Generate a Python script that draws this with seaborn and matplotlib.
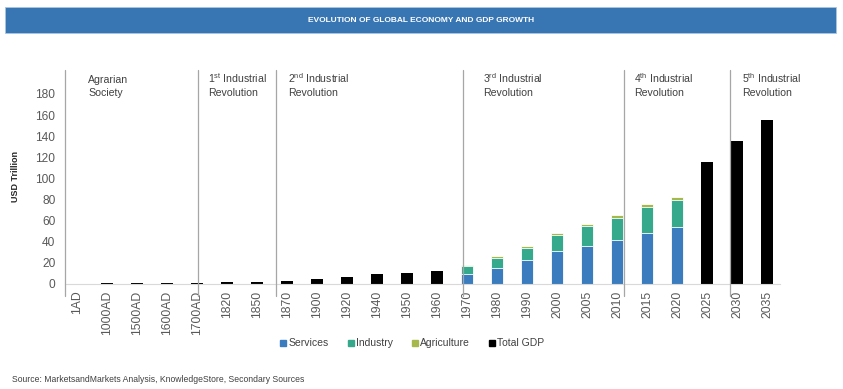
import matplotlib
matplotlib.use("Agg")
import matplotlib.pyplot as plt
import seaborn as sns
import numpy as np
import pandas as pd
from matplotlib.patches import Rectangle
from matplotlib.lines import Line2D

nan = np.nan
categories = ["1AD", "1000AD", "1500AD", "1600AD", "1700AD", "1820", "1850",
              "1870", "1900", "1920", "1940", "1950", "1960",
              "1970", "1980", "1990", "2000", "2005", "2010",
              "2015", "2020", "2025", "2030", "2035"]
total_gdp = [0.18, 0.2, 0.25, 0.6, 0.65, 1.2, 1.4,
             2.2, 4.1, 6.0, 8.9, 10.1, 11.7,
             nan, nan, nan, nan, nan, nan,
             nan, nan, 115, 135, 155]
services = [nan] * 13 + [9.5, 15.2, 22.2, 31.3, 36.0, 41.0, 48.0, 53.5] + [nan] * 3
industry = [nan] * 13 + [7.0, 8.9, 11.4, 14.9, 18.3, 21.5, 24.7, 25.5] + [nan] * 3
agriculture = [nan] * 13 + [1.5, 1.9, 2.2, 1.6, 2.2, 2.6, 2.7, 3.7] + [nan] * 3
period_line1 = ["Agrarian",
                "1$^{\\mathrm{st}}$ Industrial",
                "2$^{\\mathrm{nd}}$ Industrial",
                "3$^{\\mathrm{rd}}$ Industrial",
                "4$^{\\mathrm{th}}$ Industrial",
                "5$^{\\mathrm{th}}$ Industrial"]
period_line2 = ["Society", "Revolution", "Revolution", "Revolution",
                "Revolution", "Revolution"]
legend_labels = ["Services", "Industry", "Agriculture", "Total GDP"]

# layout constants
label_x = [0.38, 4.38, 7.04, 13.54, 18.58, 22.17]
sep_x = [-0.4, 4.03, 6.62, 12.85, 18.22, 21.75]

C_SERV = "#3A7CBE"
C_IND = "#36A98C"
C_AGR = "#A6B84C"
C_TOT = "#000000"

sns.set_style("white")
plt.rcParams["font.family"] = ["Liberation Sans", "DejaVu Sans"]
plt.rcParams["mathtext.fontset"] = "custom"
plt.rcParams["mathtext.rm"] = "Liberation Sans"
plt.rcParams["mathtext.it"] = "Liberation Sans"

fig = plt.figure(figsize=(8.43, 3.89), dpi=100)
ax = fig.add_axes([65 / 843, (389 - 283.7) / 389, 715 / 843, 213.7 / 389])

df = pd.DataFrame({"cat": categories, "total": total_gdp,
                   "serv": services, "ind": industry, "agr": agriculture})
df["si"] = df["serv"] + df["ind"]
df["sia"] = df["si"] + df["agr"]

common = dict(x="cat", order=categories, width=0.4, errorbar=None, ax=ax,
              edgecolor="white", linewidth=0.6)
sns.barplot(data=df, y="sia", color=C_AGR, saturation=1, **common)
sns.barplot(data=df, y="si", color=C_IND, saturation=1, **common)
sns.barplot(data=df, y="serv", color=C_SERV, saturation=1, **common)
common["edgecolor"] = C_TOT
common["linewidth"] = 0
sns.barplot(data=df, y="total", color=C_TOT, saturation=1, **common)

ax.set_xlim(-0.4, 23.43)
ax.set_ylim(0, 202.7)
ax.set_yticks(np.arange(0, 181, 20))
ax.tick_params(axis="y", length=0, pad=7, labelsize=8.6, labelcolor="#595959")
ax.tick_params(axis="x", length=0, pad=5, labelsize=8.8, labelcolor="#595959",
               labelrotation=90)
ax.set_xlabel("")
ax.set_ylabel("USD Trillion", fontsize=6.5, fontweight="bold", color="#262626",
              labelpad=11)
for s in ["top", "right", "left"]:
    ax.spines[s].set_visible(False)
ax.spines["bottom"].set_color("#D9D9D9")
ax.spines["bottom"].set_linewidth(0.8)

for xv in sep_x:
    ax.plot([xv, xv], [-12, 202.7], color="#A6A6A6", lw=0.9, clip_on=False,
            zorder=5)
for xv, l1, l2 in zip(label_x, period_line1, period_line2):
    ax.text(xv, 190.4, l1, ha="left", va="baseline", fontsize=7.6, color="#404040")
    ax.text(xv, 177.6, l2, ha="left", va="baseline", fontsize=7.6, color="#404040")

# title banner
fig.patches.append(Rectangle((5 / 843, 1 - 33 / 389), 831 / 843, 26 / 389,
                             transform=fig.transFigure, facecolor="#3775B3",
                             edgecolor="#A9C6E3", linewidth=0.6))
fig.text(0.5, 1 - 20 / 389, "EVOLUTION OF GLOBAL ECONOMY AND GDP GROWTH",
         ha="center", va="center", color="white", fontsize=6, fontweight="bold")

handles = [Line2D([], [], ls="", marker="s", markersize=4, color=c)
           for c in [C_SERV, C_IND, C_AGR, C_TOT]]
fig.legend(handles, legend_labels, loc="center", bbox_to_anchor=(412 / 843, 1 - 343.3 / 389),
           ncol=4, frameon=False, fontsize=7.5, handlelength=0.6,
           handletextpad=0.2, columnspacing=1.8, labelcolor="#404040")

fig.text(12 / 843, 1 - 379.7 / 389,
         "Source: MarketsandMarkets Analysis, KnowledgeStore, Secondary Sources",
         ha="left", va="center", fontsize=6.2, color="#404040")

fig.savefig("out.png", dpi=100)
